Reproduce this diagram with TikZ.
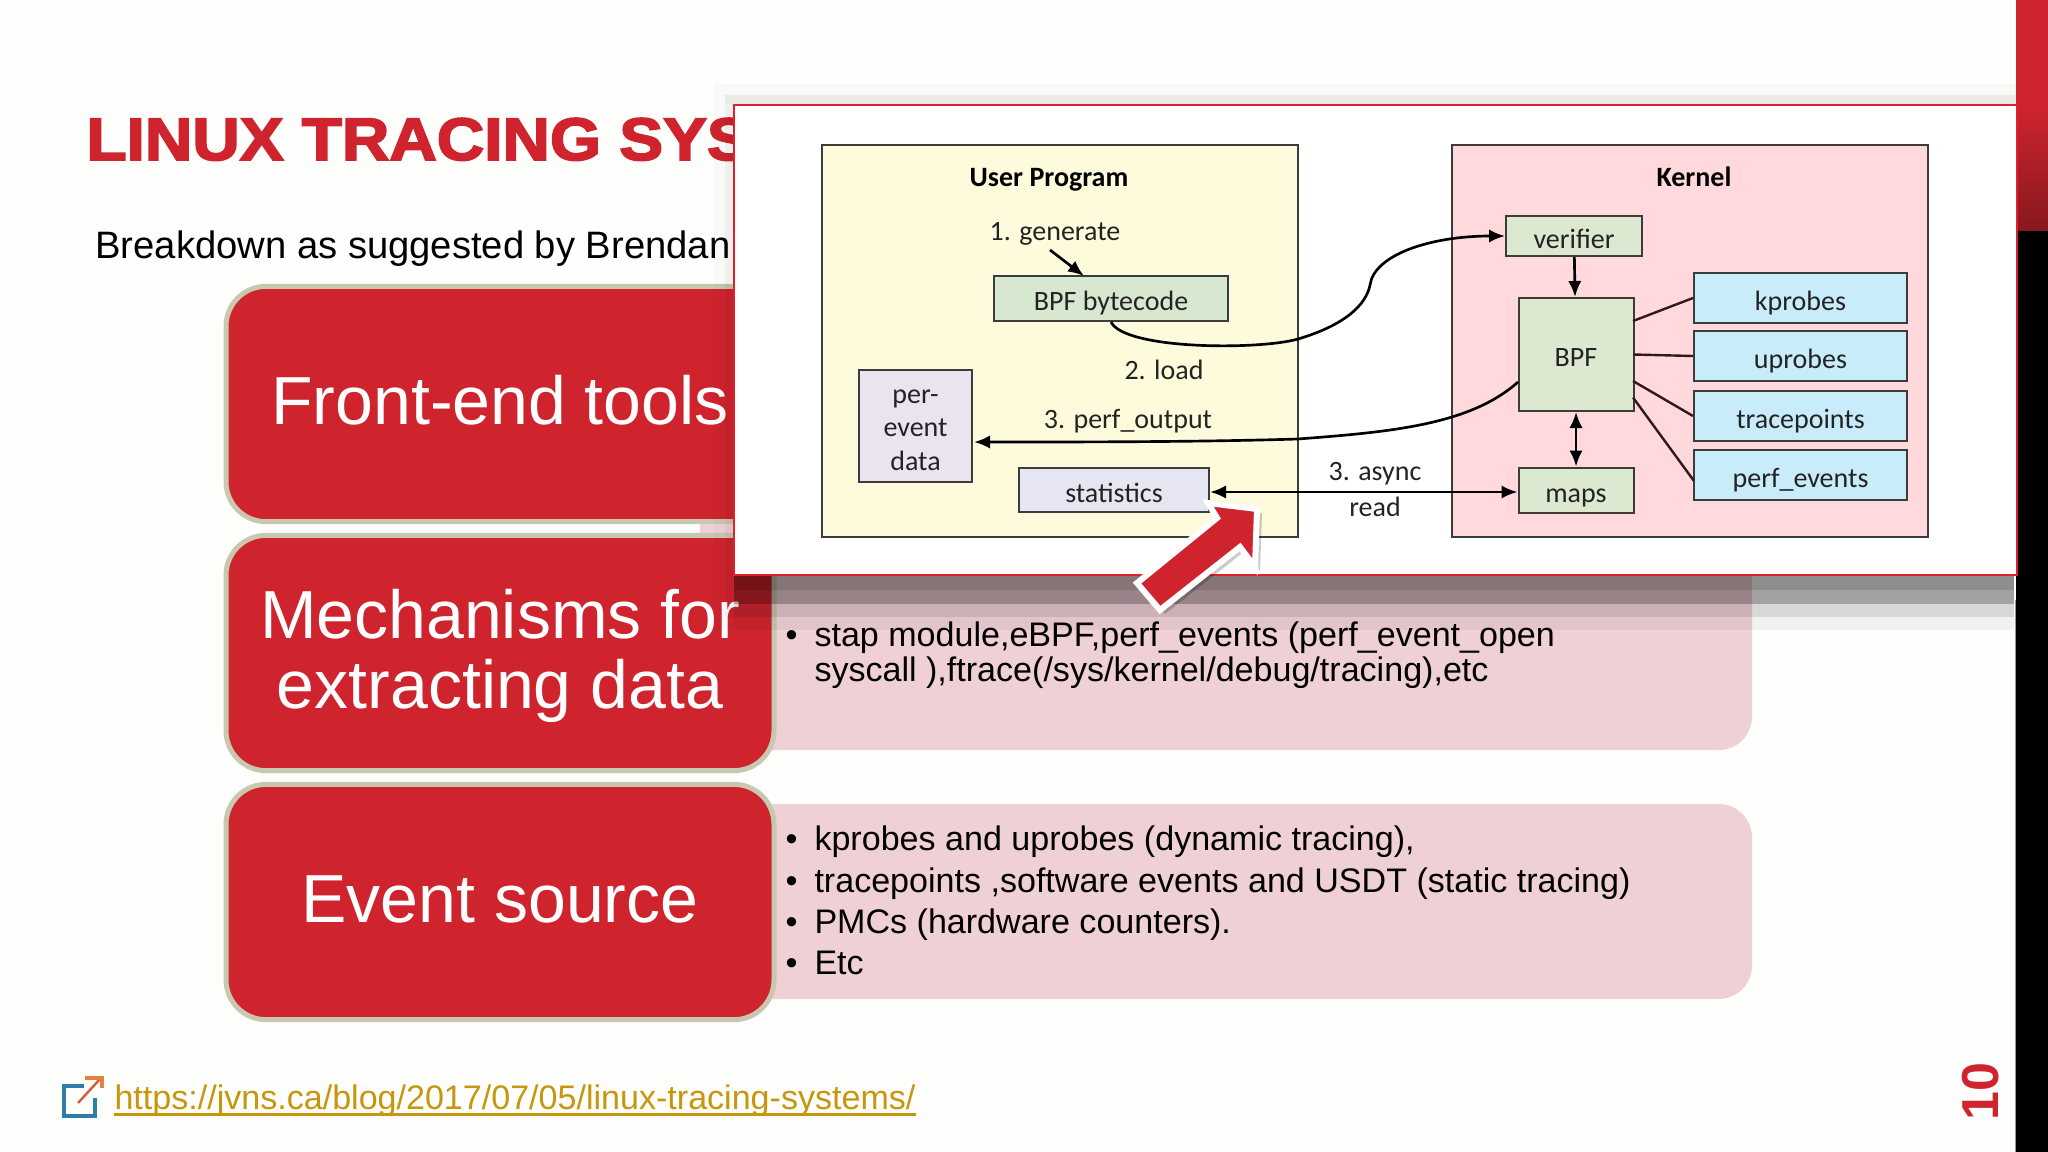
\documentclass[tikz,border=0pt]{standalone}
\usepackage{fontspec}
\setmainfont{Liberation Sans}
\newfontfamily\popupfont{Carlito}
\newfontfamily\titlefont[FakeBold=3,FakeStretch=1.095]{Liberation Sans Bold}
\usetikzlibrary{arrows.meta}

\definecolor{slidered}{RGB}{207,36,46}
\definecolor{slidepink}{RGB}{239,208,213}
\definecolor{linkgold}{RGB}{200,150,12}
\definecolor{boxline}{RGB}{60,60,60}

\tikzset{every picture/.style={line width=0.75pt}}
\tikzset{
  redblock/.style={draw={rgb,255:red,200;green,200;blue,176},line width=3.75pt,fill=slidered,rounded corners=30pt,
    minimum width=411pt,minimum height=176.5pt,inner sep=0pt,text=white,align=center,text height=42.5pt,text depth=11.5pt,font=\fontsize{51}{52.5}\selectfont},
  panel/.style={fill=slidepink,rounded corners=25pt},
  bodytext/.style={anchor=base west,inner sep=0pt,font=\fontsize{25.55}{30}\selectfont},
  diagtext/.style={inner sep=0pt,align=center,text height=19pt,text depth=4pt,text={rgb,255:red,35;green,35;blue,35},font=\popupfont\fontsize{21}{25}\selectfont},
  headtext/.style={inner sep=0pt,text height=19pt,text depth=4pt,text=black,font=\popupfont\bfseries\fontsize{21}{25}\selectfont},
  diagbox/.style={draw=boxline,line width=1.5pt,inner sep=0pt,align=center,text height=22pt,text depth=4pt,text={rgb,255:red,35;green,35;blue,35},font=\popupfont\fontsize{21}{25}\selectfont},
  linkline/.style={draw=black,line width=2pt},
  linkarrow/.style={linkline,-{Latex[length=12pt,width=10pt]}},
  linkboth/.style={linkline,{Latex[length=12pt,width=10pt]}-{Latex[length=12pt,width=10pt]}},
  probeline/.style={draw={rgb,255:red,50;green,25;blue,25},line width=1.8pt}
}

\begin{document}
\begin{tikzpicture}[x=0.75pt,y=0.75pt,yscale=-1,xscale=1]
\path[use as bounding box,fill={rgb,255:red,254;green,254;blue,253}] (0,0) rectangle (2048,1152);

%Right strip
\fill [slidered] (2016,0) rectangle (2048,230);
\fill [black] (2016,230) rectangle (2048,1152);
\draw [color={rgb,255:red,150;green,150;blue,150},line width=0.75pt] (2015.5,600) -- (2015.5,1152);

% Text Node
\draw (86,160) node (title) [anchor=base west,inner sep=0pt,text=slidered,font=\titlefont\fontsize{45}{50}\selectfont] {LINUX TRACING SYS};
% Text Node
\draw (95,258) node (breakdown) [anchor=base west,inner sep=0pt,font=\fontsize{28.65}{32}\selectfont] {Breakdown as suggested by Brendan};

%Panels
\fill [panel] (700,450) rectangle (1752,750);
\fill [panel] (700,804) rectangle (1752,999);

%Blocks
\draw (500,404) node (frontend) [redblock] {Front-end tools};
\draw (500,653) node (mechanisms) [redblock,text height=93pt,text depth=10.5pt] {Mechanisms for\\extracting data};
\draw (500,902) node (eventsource) [redblock] {Event source};

% Text Node
\draw (785,646) node (bulletb) [bodytext] {•};
\draw (814,646) node (stap) [bodytext] {stap module,eBPF,perf\_events (perf\_event\_open};
\draw (814,681) node (syscall) [bodytext] {syscall ),ftrace(/sys/kernel/debug/tracing),etc};
\draw (785,850) node (bulletc) [bodytext] {•};
\draw (814,850) node (kprobestext) [bodytext] {kprobes and uprobes (dynamic tracing),};
\draw (785,892) node (bulletd) [bodytext] {•};
\draw (814,892) node (tracetext) [bodytext] {tracepoints ,software events and USDT (static tracing)};
\draw (785,933) node (bullete) [bodytext] {•};
\draw (814,933) node (pmctext) [bodytext] {PMCs (hardware counters).};
\draw (785,974) node (bulletf) [bodytext] {•};
\draw (814,974) node (etctext) [bodytext] {Etc};

%Link icon
\draw [color={rgb,255:red,46;green,127;blue,168},line width=3pt] (84,1086) -- (64,1086) -- (64,1116) -- (95,1116) -- (95,1098);
\draw [color={rgb,255:red,214;green,90;blue,60},line width=1.8pt] (78,1103) -- (100,1079);
\draw [color={rgb,255:red,226;green,130;blue,60},line width=2.6pt] (85,1078) -- (102,1078) -- (102,1088);
% Text Node
\draw (114,1109) node (link) [anchor=base west,inner sep=0pt,text=linkgold,font=\fontsize{25.55}{30}\selectfont] {https://jvns.ca/blog/2017/07/05/linux-tracing-systems/};
\draw [color=linkgold,line width=2pt] ([yshift=4pt]link.base west) -- ([yshift=4pt]link.base east);

% Text Node
\draw (1981,1121) node (pagenum) [anchor=west,rotate=90,inner sep=0pt,text=slidered,font=\bfseries\fontsize{39}{44}\selectfont] {10};

%Popup shadow
\fill [black,opacity=0.02] (714,84) rectangle (2016,104);
\fill [black,opacity=0.06] (725,95) rectangle (2016,104);
\fill [black,opacity=0.02] (714,104) rectangle (734,630);
\fill [black,opacity=0.04] (725,104) rectangle (734,617);
\fill [black,opacity=0.44] (734,575) rectangle (2014,590);
\fill [black,opacity=0.36] (734,590) rectangle (2014,604);
\fill [black,opacity=0.15] (734,604) rectangle (2014,617);
\fill [black,opacity=0.05] (734,617) rectangle (2014,630);
\fill [top color=slidered,bottom color=slidered!65!black] (2018,105) rectangle (2048,230);

%Popup
\draw [draw={rgb,255:red,224;green,32;blue,42},fill=white,line width=1.5pt] (734,105) rectangle (2017,575);

%Shape: Rectangle
\draw [draw=boxline,line width=1.5pt,fill={rgb,255:red,254;green,251;blue,220}] (821.5,145) rectangle (1298,537);
\draw [draw=boxline,line width=1.5pt,fill={rgb,255:red,255;green,217;blue,220}] (1451.5,145) rectangle (1928,537);

% Text Node
\draw (1049,176) node (userprogram) [headtext] {User Program};
\draw (1694,176) node (kernel) [headtext] {Kernel};
\draw (1055,230) node (generate) [diagtext] {1. generate};
\draw (1164,369) node (load) [diagtext] {2. load};
\draw (1128,418) node (perfoutput) [diagtext] {3. perf\_output};
\draw (1375,470) node (async) [diagtext] {3. async};
\draw (1375,506) node (read) [diagtext] {read};

%Boxes
\draw (1111,298.5) node (bytecode) [diagbox,fill={rgb,255:red,216;green,232;blue,208},minimum width=175.5pt,minimum height=33.75pt] {BPF bytecode};
\draw (915.5,426) node (perfdata) [diagbox,text height=70pt,text depth=4pt,fill={rgb,255:red,233;green,228;blue,240},minimum width=84.75pt,minimum height=84pt] {per-\\event\\data};
\draw (1114,490) node (statistics) [diagbox,fill={rgb,255:red,230;green,230;blue,242},minimum width=142.5pt,minimum height=33pt] {statistics};
\draw (1574,236) node (verifier) [diagbox,fill={rgb,255:red,221;green,232;blue,208},minimum width=102pt,minimum height=30pt] {verifier};
\draw (1576,354.5) node (bpf) [diagbox,fill={rgb,255:red,221;green,232;blue,208},minimum width=86.25pt,minimum height=84.75pt] {BPF};
\draw (1576,490) node (maps) [diagbox,fill={rgb,255:red,221;green,232;blue,208},minimum width=86.25pt,minimum height=33.75pt] {maps};
\draw (1800.5,298) node (kprobes) [diagbox,fill={rgb,255:red,201;green,236;blue,251},minimum width=159.75pt,minimum height=37.5pt] {kprobes};
\draw (1800.5,356) node (uprobes) [diagbox,fill={rgb,255:red,201;green,236;blue,251},minimum width=159.75pt,minimum height=37.5pt] {uprobes};
\draw (1800.5,416) node (tracepoints) [diagbox,fill={rgb,255:red,201;green,236;blue,251},minimum width=159.75pt,minimum height=37.5pt] {tracepoints};
\draw (1800.5,475) node (perfevents) [diagbox,fill={rgb,255:red,201;green,236;blue,251},minimum width=159.75pt,minimum height=37.5pt] {perf\_events};

\coordinate (genout) at (1050,250);
\coordinate (genin) at (1084,276);
\coordinate (bpfout) at (1518,382);
\coordinate (perfin) at (974,442);
\coordinate (bpfa) at (1633,321);
\coordinate (bpfb) at (1633,354.5);
\coordinate (bpfc) at (1633,381);
\coordinate (bpfd) at (1633,397.5);
\coordinate (perfjoin) at (1694,481);

%Straight Lines
\draw [linkarrow] (genout) -- (genin);
\draw [linkarrow] (verifier) -- (bpf);
\draw [linkboth] (bpf) -- (maps);
\draw [linkboth] ([yshift=1.5pt]statistics.east) -- ([yshift=1.5pt]maps.west);
\draw [probeline] (bpfa) -- (kprobes.west);
\draw [probeline] (bpfb) -- (uprobes.west);
\draw [probeline] (bpfc) -- (tracepoints.west);
\draw [probeline] (bpfd) -- (perfjoin);

%Curve Lines
\draw [linkarrow] (bytecode.south) .. controls (1125,350) and (1260,350) .. (1298,339) .. controls (1345,325) and (1366,305) .. (1370,285) .. controls (1374,255) and (1430,236) .. (verifier.west);
\draw [linkarrow] (bpfout) .. controls (1470,425) and (1390,432) .. (1298,439) .. controls (1200,442) and (1090,442) .. (perfin);

%Big arrow
\fill [black,opacity=0.2] (1262,513) -- (1213,507) -- (1222,522) -- (1142,587) -- (1165,614) -- (1245,551) -- (1260,571) -- cycle;
\draw [draw=white,fill=slidered,line width=4.5pt,line join=miter] (1257,509) -- (1208,503) -- (1217,518) -- (1137,583) -- (1160,610) -- (1240,547) -- (1255,567) -- cycle;
\end{tikzpicture}
\end{document}
